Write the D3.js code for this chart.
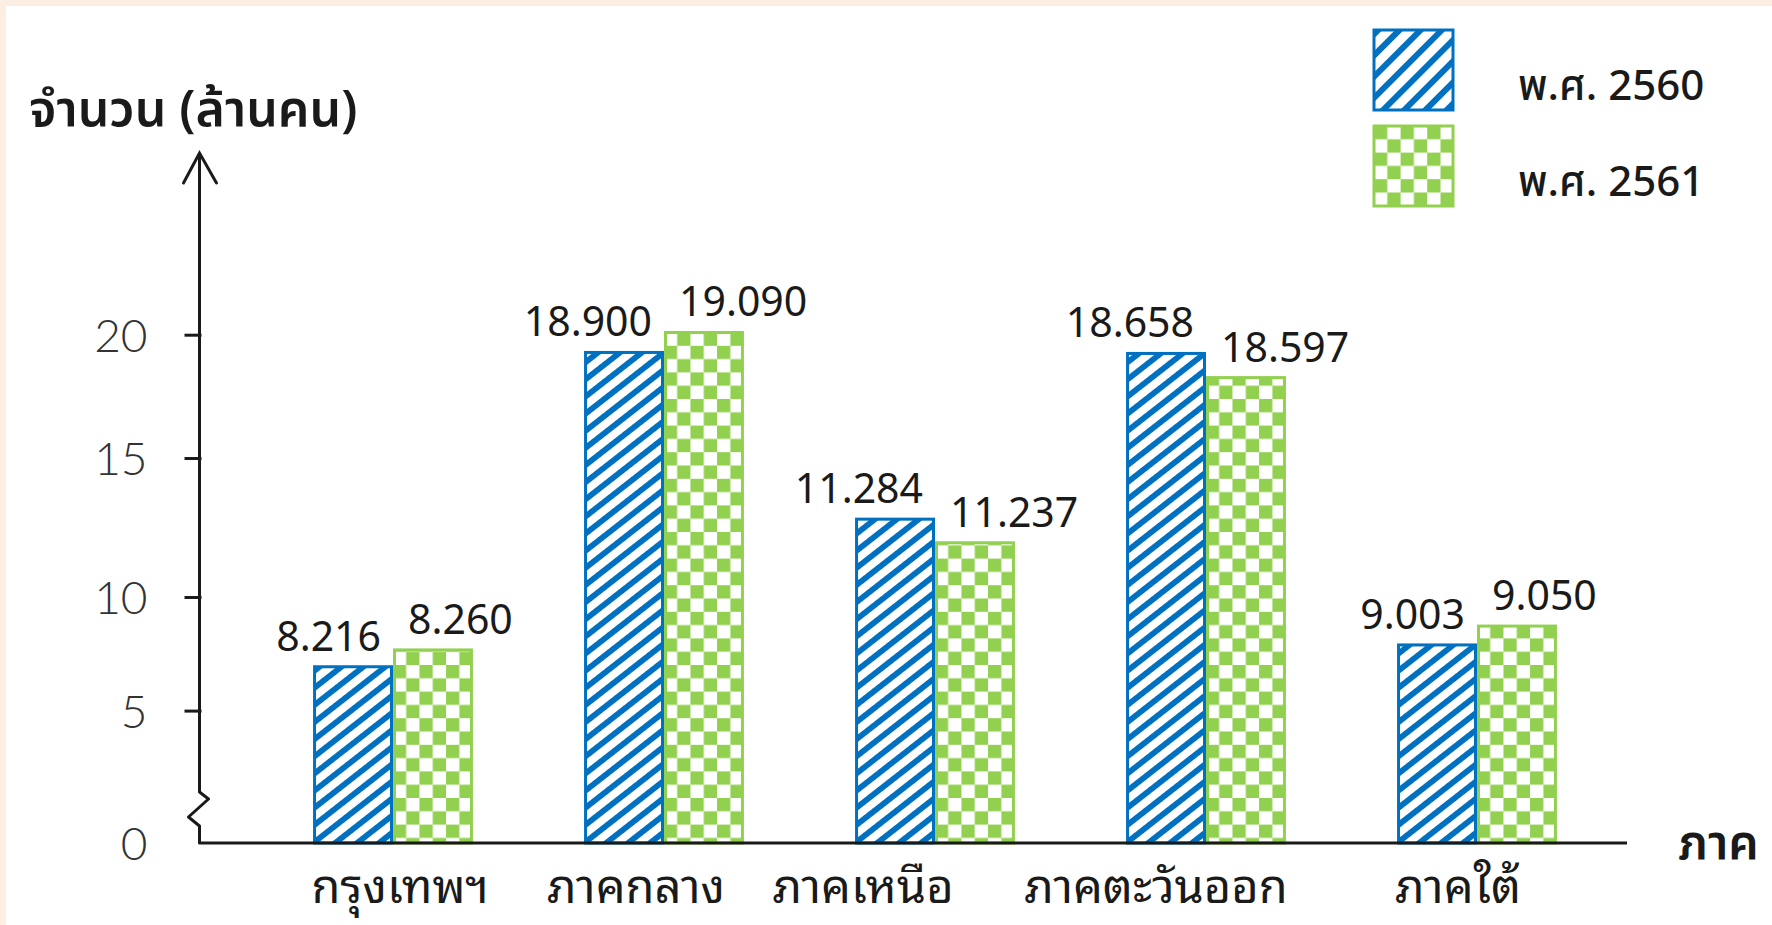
<!DOCTYPE html>
<html lang="th">
<head>
<meta charset="UTF-8">
<title>จำนวนประชากรแยกตามภาค</title>
<script src="https://d3js.org/d3.v7.min.js"></script>
<style>
  html, body { margin: 0; padding: 0; background: #fff; }
  svg { display: block; }
</style>
</head>
<body>
<svg></svg>
<script>
const categories = ['กรุงเทพฯ', 'ภาคกลาง', 'ภาคเหนือ', 'ภาคตะวันออก', 'ภาคใต้'];
const seriesNames = ['พ.ศ. 2560', 'พ.ศ. 2561'];
// numbers printed above the bars (ล้านคน)
const values2560 = [8.216, 18.900, 11.284, 18.658, 9.003];
const values2561 = [8.260, 19.090, 11.237, 18.597, 9.050];
// bar tops as they are drawn against the y axis (the picture does not match its own numbers)
const drawn2560 = [6.93, 19.28, 12.80, 19.24, 7.89];
const drawn2561 = [7.67, 20.09, 11.95, 18.26, 8.72];
const yTicks = [0, 5, 10, 15, 20];

const width = 1772, height = 925;
const blue = '#0070c0', green = '#92d050', ink = '#1a1a1a';
const thai = "'Noto Sans Thai', 'Noto Sans Thai UI', 'Noto Sans', Tahoma, sans-serif";
const thaiLooped = "'Noto Sans Thai Looped', Loma, Garuda, Sawasdee, Norasi, 'Noto Sans Thai', sans-serif";

const svg = d3.select('svg').attr('width', width).attr('height', height);

// peach frame on top/left edge
svg.append('rect').attr('width', width).attr('height', height).attr('fill', '#fdeee3');
svg.append('rect').attr('x', 6).attr('y', 6).attr('width', width).attr('height', height).attr('fill', '#fff');

const defs = svg.append('defs');
function stripes(id, period, band, angle) {
    const p = defs.append('pattern').attr('id', id)
        .attr('patternUnits', 'userSpaceOnUse')
        .attr('width', period).attr('height', period)
        .attr('patternTransform', `rotate(${angle})`);
    p.append('rect').attr('width', period).attr('height', period).attr('fill', '#fff');
    p.append('rect').attr('width', period).attr('height', band).attr('fill', blue);
}
stripes('hatch', 13.5, 5.8, -38);
stripes('hatchLegend', 15, 6, -45);

const cell = 13.3;
const checker = defs.append('pattern').attr('id', 'checker')
    .attr('patternUnits', 'userSpaceOnUse')
    .attr('width', cell * 2).attr('height', cell * 2);
checker.append('rect').attr('width', cell * 2).attr('height', cell * 2).attr('fill', '#fff');
checker.append('rect').attr('width', cell).attr('height', cell).attr('fill', green);
checker.append('rect').attr('x', cell).attr('y', cell).attr('width', cell).attr('height', cell).attr('fill', green);

const fills = { 'พ.ศ. 2560': 'url(#hatch)', 'พ.ศ. 2561': 'url(#checker)' };
const strokes = { 'พ.ศ. 2560': blue, 'พ.ศ. 2561': green };

// scales -- the y axis in the source is hand drawn with uneven spacing
const x0 = d3.scaleBand().domain(categories).range([257.5, 1612.5])
    .paddingInner(0.41).paddingOuter(0.205);
const x1 = d3.scaleBand().domain(seriesNames).range([0, x0.bandwidth()]);
const y = d3.scaleLinear().domain(yTicks).range([843, 710.6, 597, 458, 334.7]);

const axisX = 199.5;
const base = y(0);

const rows = categories.map((c, i) => ({
    cat: c,
    bars: [
        { s: seriesNames[0], v: values2560[i], h: drawn2560[i] },
        { s: seriesNames[1], v: values2561[i], h: drawn2561[i] }
    ]
}));

const groups = svg.append('g').selectAll('g')
    .data(rows)
    .join('g')
    .attr('transform', d => `translate(${x0(d.cat)},0)`);

groups.selectAll('rect')
    .data(d => d.bars)
    .join('rect')
    .attr('x', d => x1(d.s) + 1.5)
    .attr('y', d => y(d.h))
    .attr('width', x1.bandwidth() - 3)
    .attr('height', d => base - y(d.h))
    .attr('fill', d => fills[d.s])
    .attr('stroke', d => strokes[d.s])
    .attr('stroke-width', 3);

const fmt = d3.format('.3f');
groups.selectAll('text.val')
    .data(d => d.bars)
    .join('text')
    .attr('class', 'val')
    .attr('x', (d, i) => i === 0 ? x1(d.s) + x1.bandwidth() - 12 : x1(d.s) + 15)
    .attr('y', d => y(d.h) - 16)
    .attr('text-anchor', (d, i) => i === 0 ? 'end' : 'start')
    .style('font-family', "'Noto Sans', sans-serif")
    .style('font-size', '41px')
    .style('fill', ink)
    .text(d => fmt(d.v));

// y axis ticks + labels
const yAxis = d3.axisLeft(y).tickValues(yTicks).tickSize(15).tickPadding(37);
const gy = svg.append('g').attr('transform', `translate(${axisX},0)`).call(yAxis);
gy.select('.domain').remove();
gy.selectAll('.tick line').attr('stroke', ink).attr('stroke-width', 3)
    .attr('x2', -15).attr('x1', 2)
    .filter(d => d === 0).remove();
gy.selectAll('.tick text')
    .style('font-family', "Lato, 'Noto Sans', sans-serif")
    .style('font-weight', 300)
    .style('font-size', '46px')
    .style('fill', '#333')
    .attr('dy', '0.36em');

// axis lines with the break near zero and the arrow on top
const topY = 153;
const brk = base - 51;
const axisPath = d3.path();
axisPath.moveTo(axisX, topY);
axisPath.lineTo(axisX, brk);
axisPath.lineTo(axisX + 9, brk + 7);
axisPath.lineTo(axisX - 11, brk + 25);
axisPath.lineTo(axisX, brk + 34);
axisPath.lineTo(axisX, base);
axisPath.lineTo(1627, base);
svg.append('path').attr('d', axisPath.toString())
    .attr('fill', 'none').attr('stroke', ink).attr('stroke-width', 3)
    .attr('stroke-linejoin', 'round');
svg.append('path')
    .attr('d', `M${axisX - 16},${topY + 30}L${axisX},${topY}L${axisX + 17},${topY + 30}`)
    .attr('fill', 'none').attr('stroke', ink).attr('stroke-width', 3)
    .attr('stroke-linecap', 'round');

// category labels -- in the source they sit a little left of their bars, unevenly
const labelNudge = { 'กรุงเทพฯ': 7, 'ภาคกลาง': -28, 'ภาคเหนือ': -72, 'ภาคตะวันออก': -50, 'ภาคใต้': -19 };
svg.append('g').selectAll('text')
    .data(categories)
    .join('text')
    .attr('x', d => x0(d) + x0.bandwidth() / 2 + labelNudge[d])
    .attr('y', 903)
    .attr('text-anchor', 'middle')
    .style('font-family', thaiLooped)
    .style('font-size', '47px')
    .style('fill', ink)
    .text(d => d);

// titles
svg.append('text')
    .attr('x', 29).attr('y', 126)
    .style('font-family', thai).style('font-size', '50px').style('font-weight', 600)
    .style('fill', ink)
    .text('จำนวน (ล้านคน)');
svg.append('text')
    .attr('x', 1678).attr('y', 859)
    .style('font-family', thai).style('font-size', '48px').style('font-weight', 600)
    .style('fill', ink)
    .text('ภาค');

// legend
const legendFills = { 'พ.ศ. 2560': 'url(#hatchLegend)', 'พ.ศ. 2561': 'url(#checker)' };
const legend = svg.append('g').selectAll('g')
    .data(seriesNames)
    .join('g')
    .attr('transform', (d, i) => `translate(1374,${30 + i * 96})`);
legend.append('rect')
    .attr('width', 79).attr('height', 80)
    .attr('fill', d => legendFills[d])
    .attr('stroke', d => strokes[d]).attr('stroke-width', 3);
legend.append('text')
    .attr('x', 144).attr('y', 70)
    .style('font-family', thai).style('font-size', '42px').style('font-weight', 500)
    .style('fill', ink)
    .text(d => d);
</script>
</body>
</html>
